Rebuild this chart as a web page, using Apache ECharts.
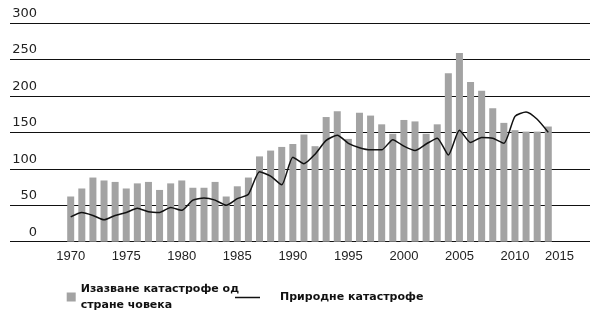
<!DOCTYPE html>
<html>
<head>
<meta charset="utf-8">
<script src="https://cdn.jsdelivr.net/npm/echarts@6/dist/echarts.min.js"></script>
<style>
html,body{margin:0;padding:0;background:#fff;}
#chart{width:612px;height:312px;}
</style>
</head>
<body>
<div id="chart"></div>
<script>
// Category slots (years) shown on the x axis
var years = [];
for (var y = 1970; y <= 2014; y++) { years.push(String(y)); }
// Tick labels by slot index
var tickLabelSlots = [0, 5, 10, 15, 20, 25, 30, 35, 40, 44];
var tickLabels = ['1970', '1975', '1980', '1985', '1990', '1995', '2000', '2005', '2010', '2015'];
var yTicks = [0, 50, 100, 150, 200, 250, 300];

var seriesNames = ['Изазване катастрофе од\nстране човека', 'Природне катастрофе'];

// Man-made disasters (bars), 1970–2013
var manMade = [62, 73, 88, 84, 82, 73, 80, 82, 71, 80,
               84, 74, 74, 82, 62, 76, 88, 117, 125, 130,
               134, 147, 131, 171, 179, 141, 177, 173, 161, 148,
               167, 165, 148, 161, 231, 259, 219, 207, 183, 163,
               153, 151, 151, 158];
// Natural disasters (line), 1970–2013
var natural = [34, 40, 36, 30, 36, 40, 46, 41, 40, 47,
               43, 57, 60, 57, 50, 59, 65, 96, 90, 78,
               116, 107, 120, 139, 146, 135, 129, 126, 126, 140,
               131, 125, 134, 142, 119, 153, 136, 143, 142, 135,
               172, 178, 168, 150];

var chart = echarts.init(document.getElementById('chart'), null, {renderer: 'canvas'});
var option = {
  backgroundColor: '#ffffff',
  animation: false,
  grid: [
    {left: 10, right: 22, top: 23, bottom: 70.3},
    {left: 65.15, right: 47.05, top: 23, bottom: 70.3}
  ],
  xAxis: [
    {type: 'value', gridIndex: 0, min: 0, max: 1, show: false},
    {
      type: 'category', gridIndex: 1, data: years, boundaryGap: true,
      axisLine: {show: false}, axisTick: {show: false}, splitLine: {show: false},
      axisLabel: {
        interval: 0, margin: 8,
        fontFamily: 'Liberation Sans', fontSize: 13, color: '#222',
        formatter: function (v, i) {
          var k = tickLabelSlots.indexOf(i);
          return k >= 0 ? tickLabels[k] : '';
        }
      }
    }
  ],
  yAxis: [
    {
      type: 'value', gridIndex: 0, min: yTicks[0], max: yTicks[yTicks.length - 1], interval: 50,
      axisLine: {show: false}, axisTick: {show: false},
      splitLine: {show: true, lineStyle: {color: '#111', width: 1}},
      axisLabel: {
        inside: true, align: 'right', margin: 27, verticalAlign: 'bottom',
        fontFamily: 'DejaVu Sans', fontSize: 13, lineHeight: 13, color: '#222',
        padding: [0, 0, 3, 0]
      }
    },
    {type: 'value', gridIndex: 1, min: 0, max: 300, show: false}
  ],
  legend: [
    {
      data: [seriesNames[0]], left: 66.7, top: 277, padding: 0,
      itemWidth: 9, itemHeight: 9, icon: 'rect',
      textStyle: {fontFamily: 'DejaVu Sans', fontWeight: 'bold', fontSize: 11, lineHeight: 16, color: '#111', padding: [0, 0, 8, 0]}
    },
    {
      data: [{name: seriesNames[1], icon: 'rect', itemStyle: {color: '#111'}}],
      left: 235, top: 287.5, padding: 0,
      itemWidth: 25, itemHeight: 1.5,
      textStyle: {fontFamily: 'DejaVu Sans', fontWeight: 'bold', fontSize: 11, lineHeight: 16, color: '#111', padding: [4, 0, 0, 15]}
    }
  ],
  series: [
    {
      name: seriesNames[0], type: 'bar', xAxisIndex: 1, yAxisIndex: 1,
      data: manMade, barWidth: 7,
      itemStyle: {color: '#a3a3a3'}
    },
    {
      name: seriesNames[1], type: 'line', xAxisIndex: 1, yAxisIndex: 1,
      data: natural, symbol: 'none', showSymbol: false, smooth: 0.2,
      lineStyle: {color: '#111', width: 1.5}, itemStyle: {color: '#111'}, z: 5
    }
  ]
};
chart.setOption(option);
</script>
</body>
</html>
